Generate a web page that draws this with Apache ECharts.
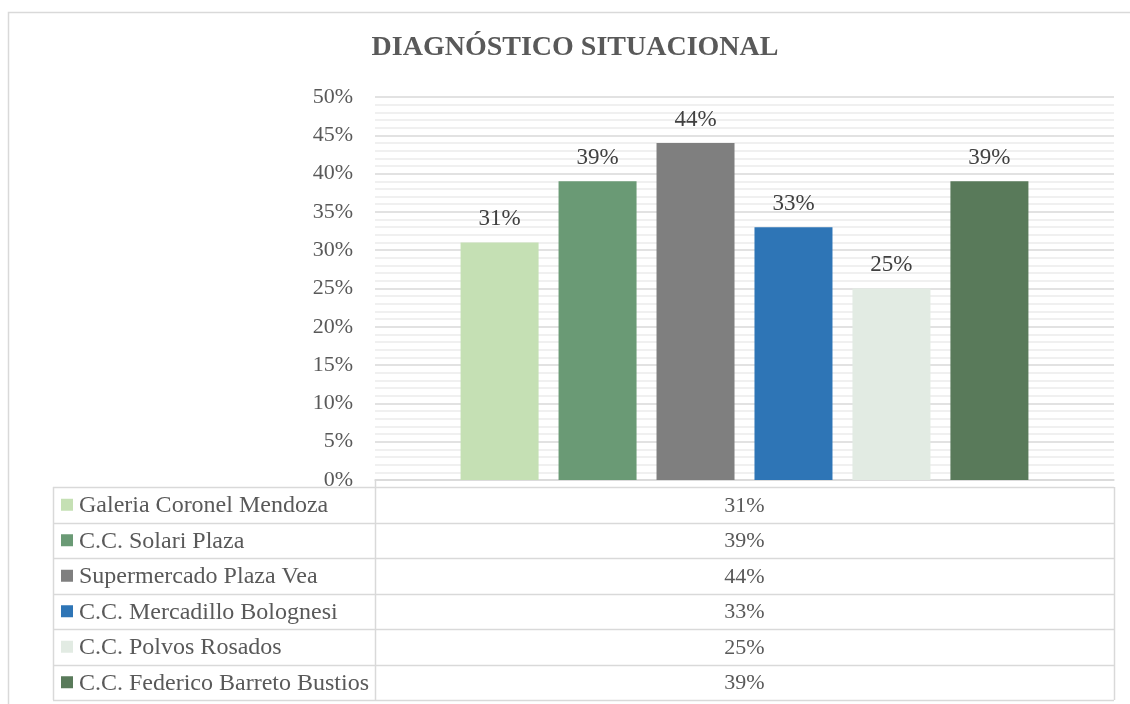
<!DOCTYPE html>
<html>
<head>
<meta charset="utf-8">
<script src="https://cdn.jsdelivr.net/npm/echarts@6/dist/echarts.min.js"></script>
<style>
html,body{margin:0;padding:0;background:#fff;}
#c{width:1130px;height:704px;}
</style>
</head>
<body>
<div id="c"></div>
<script>
// ---- data ----
const titleText = 'DIAGNÓSTICO SITUACIONAL';
const categories = [''];
const seriesNames = ['Galeria Coronel Mendoza','C.C. Solari Plaza','Supermercado Plaza Vea','C.C. Mercadillo Bolognesi','C.C. Polvos Rosados','C.C. Federico Barreto Bustios'];
const seriesValues = [0.31, 0.39, 0.44, 0.33, 0.25, 0.39];
const yTicks = {min: 0, max: 0.5, interval: 0.05};

// ---- styles ----
const colors = ['#C5E0B4','#6A9A75','#7F7F7F','#2E75B6','#E2EBE3','#597A5A'];
const FONT = '"Liberation Serif","Times New Roman",serif';
const pct = v => Math.round(v * 100) + '%';

const chart = echarts.init(document.getElementById('c'), null, {renderer: 'canvas'});

const grid = {left: 375, right: 16, top: 97, bottom: 224};
const tableTop = 487, rowH = 35.5, tableLeft = 53, tableSplit = 375, tableRight = 1114;

const graphics = [];
// outer border
graphics.push({type: 'rect', shape: {x: 8.5, y: 12.5, width: 1140, height: 720}, style: {fill: 'none', stroke: '#D9D9D9', lineWidth: 1.5}, silent: true});
// title
graphics.push({type: 'text', x: 575, y: 48, style: {text: titleText, font: 'bold 28px ' + FONT, fill: '#595959', textAlign: 'center', textVerticalAlign: 'middle'}, silent: true});
// table lines
const nRows = seriesNames.length;
const tableBottom = tableTop + rowH * nRows;
for (let i = 0; i <= nRows; i++) {
  const y = Math.round(tableTop + rowH * i) + 0.5;
  graphics.push({type: 'line', shape: {x1: tableLeft, y1: y, x2: tableRight, y2: y}, style: {stroke: '#D9D9D9', lineWidth: 1.5}, silent: true});
}
graphics.push({type: 'line', shape: {x1: tableLeft + 0.5, y1: tableTop, x2: tableLeft + 0.5, y2: tableBottom}, style: {stroke: '#D9D9D9', lineWidth: 1.5}, silent: true});
graphics.push({type: 'line', shape: {x1: tableSplit + 0.5, y1: 480, x2: tableSplit + 0.5, y2: tableBottom}, style: {stroke: '#D9D9D9', lineWidth: 1.5}, silent: true});
graphics.push({type: 'line', shape: {x1: tableRight + 0.5, y1: tableTop, x2: tableRight + 0.5, y2: tableBottom}, style: {stroke: '#D9D9D9', lineWidth: 1.5}, silent: true});
// table content
seriesNames.forEach((name, i) => {
  const cy = tableTop + rowH * i + rowH / 2;
  graphics.push({type: 'rect', shape: {x: 61, y: cy - 6, width: 12, height: 12}, style: {fill: colors[i]}, silent: true});
  graphics.push({type: 'text', x: 79, y: cy + 1, style: {text: name, font: '24px ' + FONT, fill: '#595959', textVerticalAlign: 'middle', textAlign: 'left'}, silent: true});
  graphics.push({type: 'text', x: (tableSplit + tableRight) / 2, y: cy + 1, style: {text: pct(seriesValues[i]), font: '22px ' + FONT, fill: '#595959', textVerticalAlign: 'middle', textAlign: 'center'}, silent: true});
});

const series = seriesNames.map((name, i) => ({
  name: name,
  type: 'bar',
  data: [seriesValues[i]],
  barWidth: 78,
  barGap: '25.6%',
  itemStyle: {color: colors[i]},
  label: {show: true, position: 'top', distance: 12, formatter: p => pct(p.value), color: '#404040', fontFamily: FONT, fontSize: 23}
}));

chart.setOption({
  animation: false,
  backgroundColor: '#fff',
  grid: grid,
  xAxis: {
    type: 'category', data: categories,
    axisLine: {show: true, lineStyle: {color: '#D9D9D9', width: 1.5}},
    axisTick: {show: false}, axisLabel: {show: false}, splitLine: {show: false}
  },
  yAxis: {
    type: 'value', min: yTicks.min, max: yTicks.max, interval: yTicks.interval,
    axisLine: {show: false}, axisTick: {show: false},
    axisLabel: {formatter: v => pct(v), fontFamily: FONT, fontSize: 22, color: '#595959', margin: 22},
    splitLine: {lineStyle: {color: '#D9D9D9', width: 1.5}},
    minorTick: {show: false, splitNumber: 5},
    minorSplitLine: {show: true, lineStyle: {color: '#F0F0F0', width: 2}}
  },
  series: series,
  graphic: graphics
});
</script>
</body>
</html>
